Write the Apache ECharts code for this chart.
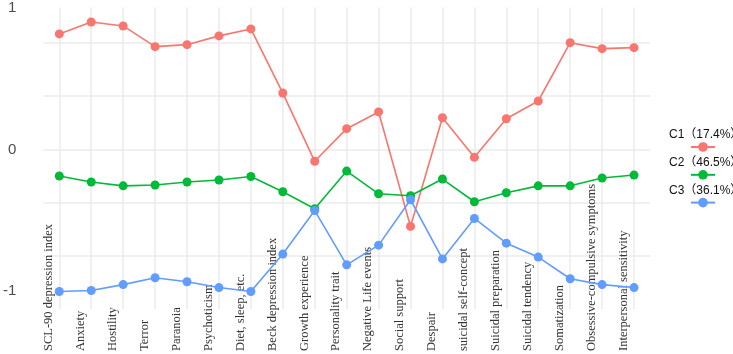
<!DOCTYPE html>
<html>
<head>
	<meta charset="utf-8">
	<title>C1 C2 C3</title>
	<script src="https://cdn.jsdelivr.net/npm/echarts@6/dist/echarts.min.js"></script>
	<style type="text/css">
		html,body{
			margin: 0;
			width: 100%;
			height: 100%;
			background: #fff;
		}
		#main{
			width: 733px;
			height: 354px;
		}
	</style>
</head>
<body>
<div id="main"></div>
<script>
    // x轴类别
    var categories = ['SCL-90 depression index', 'Anxiety', 'Hostility', 'Terror', 'Paranoia',
        'Psychoticism', 'Diet, sleep, etc.', 'Beck depression index', 'Growth experience',
        'Personality trait', 'Negative Life events', 'Social support', 'Despair',
        'suicidal self-concept', 'Suicidal preparation', 'Suicidal tendency', 'Somatization',
        'Obsessive-compulsive symptoms', 'Interpersonal sensitivity'];
    // 三条曲线
    var c1 = [0.814, 0.898, 0.870, 0.724, 0.738, 0.800, 0.849, 0.397, -0.084, 0.146, 0.264, -0.543,
        0.223, -0.056, 0.216, 0.341, 0.752, 0.710, 0.717];
    var c2 = [-0.188, -0.230, -0.257, -0.251, -0.230, -0.216, -0.191, -0.299, -0.418, -0.153, -0.313,
        -0.327, -0.209, -0.369, -0.306, -0.257, -0.257, -0.202, -0.181];
    var c3 = [-1.002, -0.995, -0.953, -0.905, -0.933, -0.974, -1.002, -0.738, -0.431, -0.814, -0.675,
        -0.355, -0.772, -0.487, -0.661, -0.759, -0.912, -0.953, -0.974];
    var seriesNames = ['C1（17.4%）', 'C2（46.5%）', 'C3（36.1%）'];
    var yLabels = [-1, 0, 1];

    var colors = ['#F8766D', '#00BA38', '#619CFF'];
    var myChart = echarts.init(document.getElementById('main'));

    function line(name, data, color) {
        return {
            name: name,
            type: 'line',
            data: data,
            symbol: 'circle',
            symbolSize: 9,
            itemStyle: { color: color },
            lineStyle: { color: color, width: 1.6 },
            emphasis: { disabled: true },
            z: 3
        };
    }

    var option = {
        animation: false,
        color: colors,
        grid: {
            left: 40,
            right: 83,
            top: 6.3,
            bottom: 42.3
        },
        legend: [{
            // 只显示文字
            orient: 'vertical',
            left: 659,
            top: 123,
            itemGap: 15,
            itemWidth: 0,
            itemHeight: 14,
            icon: 'none',
            selectedMode: false,
            data: seriesNames,
            textStyle: {
                color: '#111',
                fontSize: 12,
                padding: 0,
                fontFamily: 'Liberation Sans, "Noto Sans CJK SC", sans-serif',
                width: 74,
                overflow: 'none'
            }
        }, {
            // 只显示图标
            orient: 'vertical',
            left: 685,
            top: 136,
            itemGap: 17,
            itemWidth: 24,
            itemHeight: 12,
            selectedMode: false,
            data: seriesNames,
            formatter: function () { return ''; }
        }],
        xAxis: {
            type: 'category',
            data: categories,
            boundaryGap: true,
            axisLine: { show: false },
            axisTick: { show: false, alignWithLabel: true },
            splitLine: {
                show: true,
                alignWithLabel: true,
                lineStyle: { color: '#ebebeb', width: 1.5 }
            },
            axisLabel: {
                interval: 0,
                rotate: 90,
                align: 'left',
                verticalAlign: 'bottom',
                margin: 42,
                padding: [0, 0, 4, 0],
                color: '#333',
                fontSize: 12.5,
                fontFamily: 'Liberation Serif, serif'
            }
        },
        yAxis: {
            type: 'value',
            min: -1.125,
            max: 1,
            interval: 0.375,
            axisLine: { show: false },
            axisTick: { show: false },
            splitLine: {
                show: true,
                showMinLine: false,
                showMaxLine: false,
                lineStyle: { color: '#ebebeb', width: 1.5 }
            },
            axisLabel: {
                customValues: yLabels,
                margin: 27,
                color: '#4d4d4d',
                fontSize: 15,
                fontFamily: 'Liberation Sans, sans-serif'
            }
        },
        series: [
            line(seriesNames[0], c1, colors[0]),
            line(seriesNames[1], c2, colors[1]),
            line(seriesNames[2], c3, colors[2])
        ]
    };

    myChart.setOption(option);
</script>
</body>
</html>
